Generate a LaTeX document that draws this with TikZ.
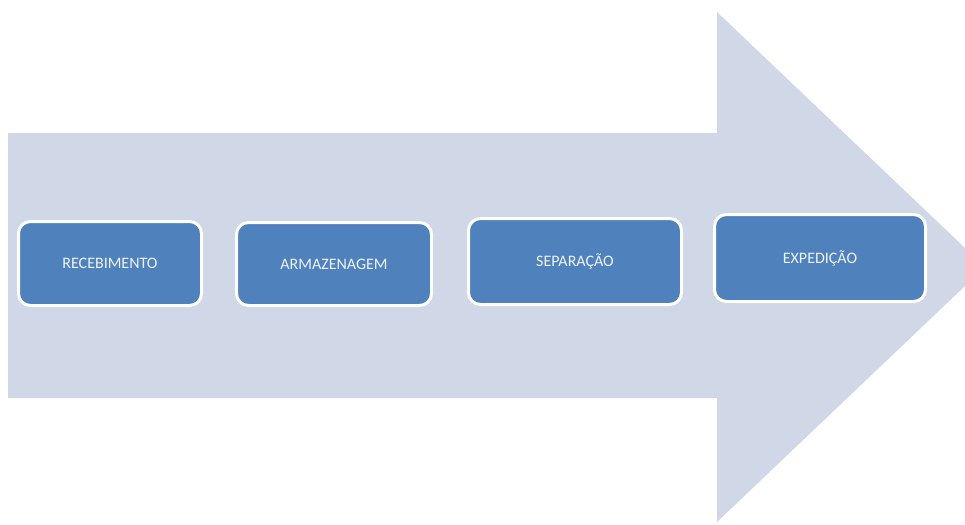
\documentclass[tikz,border=0pt]{standalone}
\usepackage{fontspec}
\setmainfont{Carlito}
\definecolor{seta}{HTML}{D0D7E6}
\definecolor{caixa}{HTML}{4F81BD}
\definecolor{letra}{HTML}{EEF4FB}
\begin{document}
\begin{tikzpicture}[x=1pt, y=-1pt,
    etapa/.style={rectangle, draw=white, line width=3pt, rounded corners=12pt,
        fill=caixa, text=letra, font=\fontsize{16}{18}\selectfont, inner sep=0pt}]
    \useasboundingbox (0,0) rectangle (965,524);
    \clip (0,0) rectangle (965,524);

    % seta de fundo
    \fill[seta] (8,133) -- (717,133) -- (717,12) -- (985,267) -- (717,522)
        -- (717,398) -- (8,398) -- cycle;

    \node[etapa, minimum width=183pt, minimum height=84pt] (R) at (110,263.5) {RECEBIMENTO};
    \node[etapa, minimum width=195pt, minimum height=83pt] (A) at (334,264) {ARMAZENAGEM};
    \node[etapa, minimum width=213pt, minimum height=86pt] (S) at (575,261.5) {SEPARAÇÃO};
    \node[etapa, minimum width=211pt, minimum height=87pt] (E) at (820,258) {EXPEDIÇÃO};
\end{tikzpicture}
\end{document}
